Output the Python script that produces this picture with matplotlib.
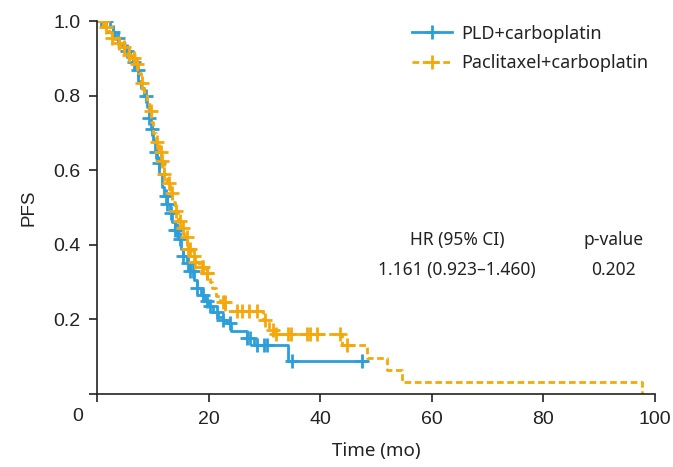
import numpy as np
import matplotlib
matplotlib.use('Agg')
import matplotlib.pyplot as plt
from matplotlib.lines import Line2D

# Kaplan-Meier step data (time in months, PFS after each drop)
pld_time = [0, 2.3, 2.8, 3.3, 3.9, 4.5, 5.2, 5.9, 6.5, 7.0, 7.4, 7.8, 8.4, 8.9, 9.3,
            9.6, 10.0, 10.4, 10.8, 11.2, 11.6, 12.0, 12.5, 13.0, 13.5, 14.0, 14.5,
            15.0, 15.5, 16.1, 16.7, 17.3, 17.9, 18.6, 19.3, 20.0, 20.8, 21.6, 22.5,
            23.3, 24.0, 26.9, 28.2, 34.3, 48.2]
pld_surv = [1.0, 0.985, 0.97, 0.955, 0.94, 0.93, 0.92, 0.905, 0.89, 0.87, 0.84, 0.82,
            0.80, 0.77, 0.74, 0.71, 0.68, 0.65, 0.62, 0.59, 0.555, 0.53, 0.51, 0.485,
            0.46, 0.44, 0.415, 0.39, 0.37, 0.35, 0.33, 0.305, 0.285, 0.265, 0.25,
            0.235, 0.22, 0.207, 0.198, 0.19, 0.17, 0.15, 0.131, 0.088, 0.088]
pld_censor = [0.7, 1.6, 2.9, 3.8, 5.3, 6.7, 7.3, 8.7, 9.3, 9.9, 10.5, 11.1, 12.3,
              12.6, 13.2, 14.0, 14.3, 14.9, 15.5, 16.3, 16.7, 17.2, 17.9, 19.0,
              19.7, 20.3, 21.5, 22.6, 23.8, 26.9, 27.4, 28.7, 29.9, 30.4, 34.9, 47.5]

pac_time = [0, 1.5, 2.1, 2.6, 3.3, 4.1, 4.9, 5.6, 6.3, 7.0, 7.4, 7.9, 8.4, 8.9, 9.3,
            9.7, 10.1, 10.6, 11.1, 11.5, 12.0, 12.5, 13.0, 13.5, 14.0, 14.5, 15.0,
            15.6, 16.2, 16.8, 17.5, 18.3, 19.2, 20.2, 20.6, 21.3, 22.1, 23.0, 29.8,
            30.8, 31.6, 43.9, 48.4, 52.0, 54.7, 97.7]
pac_surv = [1.0, 0.985, 0.97, 0.955, 0.94, 0.93, 0.92, 0.91, 0.90, 0.885, 0.86, 0.835,
            0.81, 0.785, 0.76, 0.73, 0.70, 0.675, 0.65, 0.625, 0.59, 0.565, 0.54,
            0.515, 0.49, 0.465, 0.445, 0.42, 0.39, 0.37, 0.355, 0.34, 0.325, 0.30,
            0.285, 0.262, 0.247, 0.222, 0.198, 0.172, 0.16, 0.131, 0.097, 0.064,
            0.032, 0.0]
pac_censor = [1.0, 1.7, 2.7, 3.9, 4.8, 5.7, 6.6, 7.2, 8.1, 9.6, 10.8, 11.4, 11.6,
              12.0, 12.9, 13.4, 14.2, 14.9, 15.5, 16.1, 16.4, 16.7, 17.3, 17.6,
              18.8, 19.0, 19.7, 19.8, 22.6, 22.9, 25.1, 26.0, 27.2, 28.7, 30.1,
              31.5, 32.1, 34.2, 34.8, 37.6, 38.2, 39.4, 43.5, 44.8]

hr_text = '1.161 (0.923\u20131.460)'
p_text = '0.202'

blue = '#2C9FDA'
orange = '#F5A80C'
txt = '#222222'


def surv_at(times, surv, t):
    idx = np.searchsorted(times, t, side='right') - 1
    return np.asarray(surv)[idx]


fig = plt.figure(figsize=(6.73, 4.67), dpi=100)
ax = fig.add_axes([0.1441, 0.1563, 0.8291, 0.7987])

ax.plot(pld_time, pld_surv, drawstyle='steps-post', color=blue, lw=2.0)
ax.plot(pld_censor, surv_at(pld_time, pld_surv, pld_censor), ls='none',
        marker='+', ms=9.5, mew=2.0, color=blue)

ax.plot(pac_time, pac_surv, drawstyle='steps-post', color=orange, lw=2.0,
        ls=(0, (2.4, 1.3)))
ax.plot(pac_censor, surv_at(pac_time, pac_surv, pac_censor), ls='none',
        marker='+', ms=9.5, mew=2.0, color=orange)

ax.set_xlim(0, 100)
ax.set_ylim(0, 1.0)
ax.set_xticks([0, 20, 40, 60, 80, 100])
ax.set_xticklabels(['', '20', '40', '60', '80', '100'])
ax.set_yticks([0, 0.2, 0.4, 0.6, 0.8, 1.0])
ax.set_yticklabels(['', '0.2', '0.4', '0.6', '0.8', '1.0'])
ax.text(-0.024, -0.06, '0', transform=ax.transAxes, ha='right', va='center',
        fontsize=14, family='Liberation Sans', color=txt)

for s in ['top', 'right']:
    ax.spines[s].set_visible(False)
for s in ['left', 'bottom']:
    ax.spines[s].set_linewidth(1.2)
    ax.spines[s].set_color('#222222')
ax.tick_params(direction='out', length=6, width=1.2, color='#222222',
               labelsize=14, labelcolor=txt, pad=6)
for lab in ax.get_xticklabels() + ax.get_yticklabels():
    lab.set_family('Liberation Sans')

ax.set_xlabel('Time (mo)', fontsize=13.5, family='Noto Sans', color=txt, labelpad=10)
ax.set_ylabel('PFS', fontsize=13.5, family='Liberation Sans', color=txt, labelpad=11)

handles = [Line2D([], [], color=blue, lw=2.0, marker='+', ms=9.5, mew=2.0),
           Line2D([], [], color=orange, lw=2.0, ls=(0, (2.4, 1.3)), marker='+',
                  ms=9.5, mew=2.0)]
ax.legend(handles, ['PLD+carboplatin', 'Paclitaxel+carboplatin'],
          loc='upper left', bbox_to_anchor=(0.565, 0.99), frameon=False,
          borderaxespad=0, borderpad=0, handlelength=2.2, handletextpad=0.5,
          labelspacing=0.62, prop={'family': 'Noto Sans', 'size': 13},
          labelcolor=txt)

ax.text(64.5, 0.413, 'HR (95% CI)', ha='center', va='center', fontsize=12.5,
        family='Noto Sans', color=txt)
ax.text(92.5, 0.413, 'p-value', ha='center', va='center', fontsize=12.5,
        family='Noto Sans', color=txt)
ax.text(64.5, 0.332, hr_text, ha='center', va='center', fontsize=12.5,
        family='Noto Sans', color=txt)
ax.text(92.5, 0.332, p_text, ha='center', va='center', fontsize=12.5,
        family='Noto Sans', color=txt)

fig.savefig('out.png', dpi=100)
